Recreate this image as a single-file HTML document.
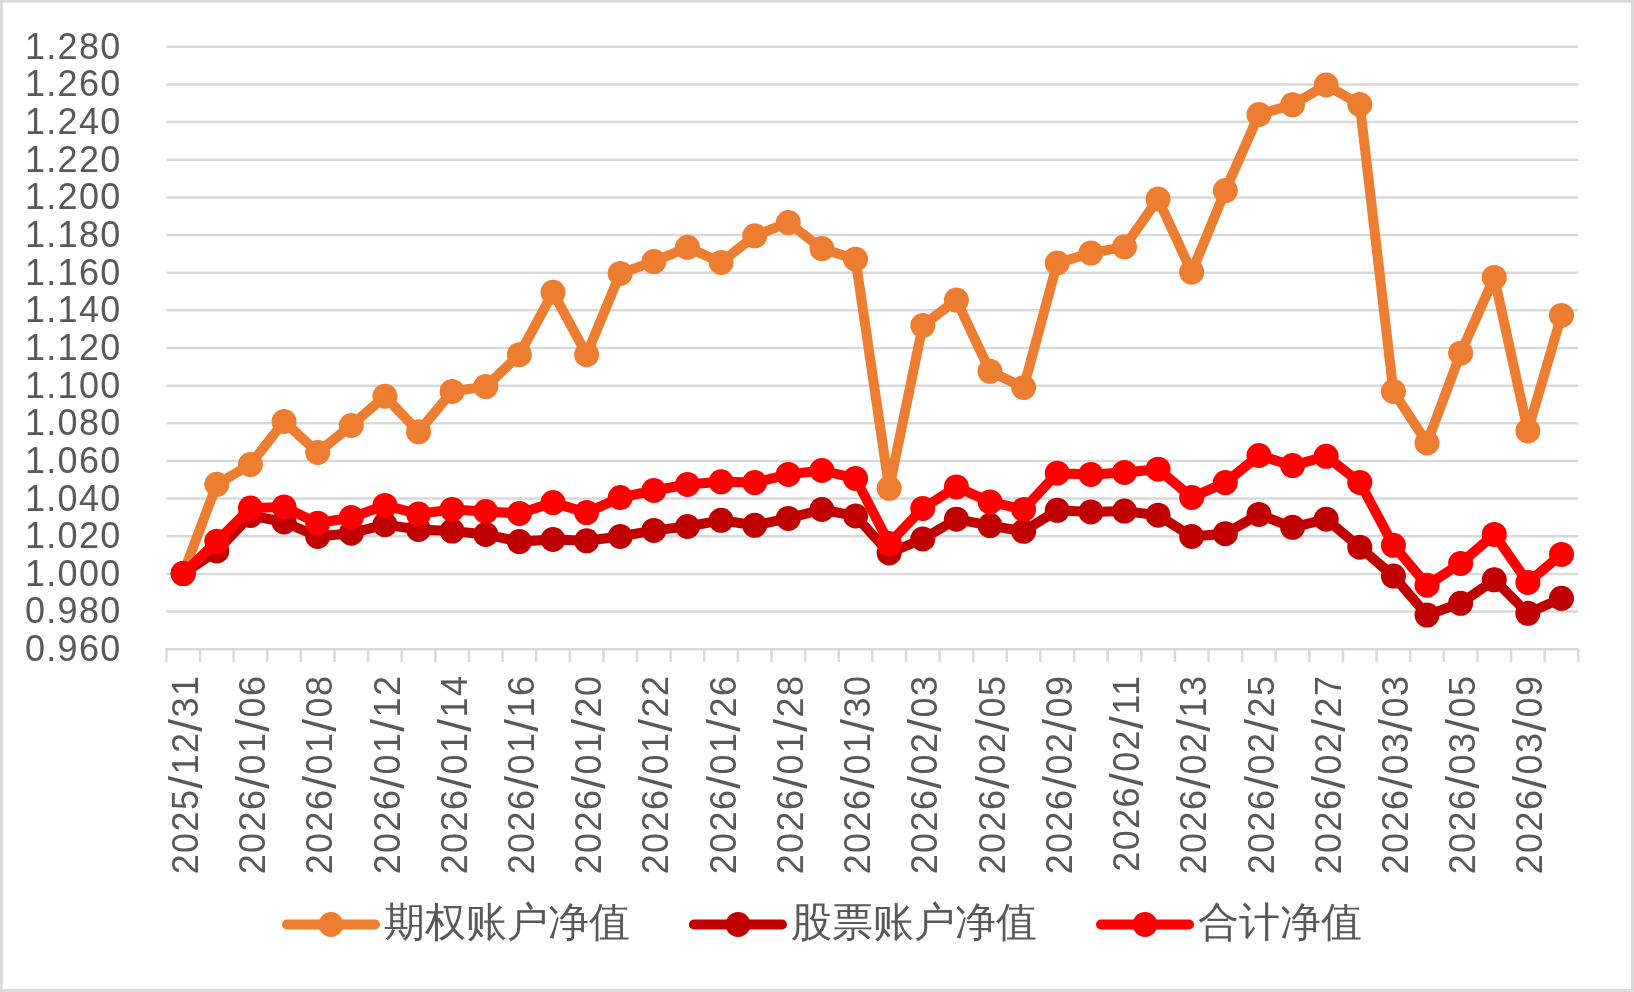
<!DOCTYPE html>
<html><head><meta charset="utf-8"><style>
html,body{margin:0;padding:0;background:#fff;}
body{width:1634px;height:992px;overflow:hidden;position:relative;}
svg{position:absolute;left:0;top:0;will-change:transform;}
text{font-family:"Liberation Sans",sans-serif;fill:#595959;}
.cjk{font-weight:300;}
</style></head><body>
<svg width="1634" height="992" viewBox="0 0 1634 992">

<rect x="1.4" y="1.3" width="1631.1" height="989.2" fill="none" stroke="#d9d9d9" stroke-width="2.8"/>

<g stroke="#d9d9d9" stroke-width="2.5"><line x1="166.4" y1="46.80" x2="1578.3" y2="46.80"/><line x1="166.4" y1="84.45" x2="1578.3" y2="84.45"/><line x1="166.4" y1="122.10" x2="1578.3" y2="122.10"/><line x1="166.4" y1="159.75" x2="1578.3" y2="159.75"/><line x1="166.4" y1="197.40" x2="1578.3" y2="197.40"/><line x1="166.4" y1="235.05" x2="1578.3" y2="235.05"/><line x1="166.4" y1="272.70" x2="1578.3" y2="272.70"/><line x1="166.4" y1="310.35" x2="1578.3" y2="310.35"/><line x1="166.4" y1="348.00" x2="1578.3" y2="348.00"/><line x1="166.4" y1="385.65" x2="1578.3" y2="385.65"/><line x1="166.4" y1="423.30" x2="1578.3" y2="423.30"/><line x1="166.4" y1="460.95" x2="1578.3" y2="460.95"/><line x1="166.4" y1="498.60" x2="1578.3" y2="498.60"/><line x1="166.4" y1="536.25" x2="1578.3" y2="536.25"/><line x1="166.4" y1="573.90" x2="1578.3" y2="573.90"/><line x1="166.4" y1="611.55" x2="1578.3" y2="611.55"/></g>
<g stroke="#d9d9d9" stroke-width="2.5"><line x1="165.20000000000002" y1="649.20" x2="1578.3" y2="649.20"/><line x1="166.40" y1="649.20" x2="166.40" y2="662"/><line x1="200.02" y1="649.20" x2="200.02" y2="662"/><line x1="233.63" y1="649.20" x2="233.63" y2="662"/><line x1="267.25" y1="649.20" x2="267.25" y2="662"/><line x1="300.87" y1="649.20" x2="300.87" y2="662"/><line x1="334.48" y1="649.20" x2="334.48" y2="662"/><line x1="368.10" y1="649.20" x2="368.10" y2="662"/><line x1="401.72" y1="649.20" x2="401.72" y2="662"/><line x1="435.33" y1="649.20" x2="435.33" y2="662"/><line x1="468.95" y1="649.20" x2="468.95" y2="662"/><line x1="502.57" y1="649.20" x2="502.57" y2="662"/><line x1="536.18" y1="649.20" x2="536.18" y2="662"/><line x1="569.80" y1="649.20" x2="569.80" y2="662"/><line x1="603.42" y1="649.20" x2="603.42" y2="662"/><line x1="637.03" y1="649.20" x2="637.03" y2="662"/><line x1="670.65" y1="649.20" x2="670.65" y2="662"/><line x1="704.27" y1="649.20" x2="704.27" y2="662"/><line x1="737.88" y1="649.20" x2="737.88" y2="662"/><line x1="771.50" y1="649.20" x2="771.50" y2="662"/><line x1="805.12" y1="649.20" x2="805.12" y2="662"/><line x1="838.73" y1="649.20" x2="838.73" y2="662"/><line x1="872.35" y1="649.20" x2="872.35" y2="662"/><line x1="905.97" y1="649.20" x2="905.97" y2="662"/><line x1="939.58" y1="649.20" x2="939.58" y2="662"/><line x1="973.20" y1="649.20" x2="973.20" y2="662"/><line x1="1006.82" y1="649.20" x2="1006.82" y2="662"/><line x1="1040.43" y1="649.20" x2="1040.43" y2="662"/><line x1="1074.05" y1="649.20" x2="1074.05" y2="662"/><line x1="1107.67" y1="649.20" x2="1107.67" y2="662"/><line x1="1141.28" y1="649.20" x2="1141.28" y2="662"/><line x1="1174.90" y1="649.20" x2="1174.90" y2="662"/><line x1="1208.52" y1="649.20" x2="1208.52" y2="662"/><line x1="1242.13" y1="649.20" x2="1242.13" y2="662"/><line x1="1275.75" y1="649.20" x2="1275.75" y2="662"/><line x1="1309.37" y1="649.20" x2="1309.37" y2="662"/><line x1="1342.98" y1="649.20" x2="1342.98" y2="662"/><line x1="1376.60" y1="649.20" x2="1376.60" y2="662"/><line x1="1410.22" y1="649.20" x2="1410.22" y2="662"/><line x1="1443.83" y1="649.20" x2="1443.83" y2="662"/><line x1="1477.45" y1="649.20" x2="1477.45" y2="662"/><line x1="1511.07" y1="649.20" x2="1511.07" y2="662"/><line x1="1544.68" y1="649.20" x2="1544.68" y2="662"/><line x1="1578.30" y1="649.20" x2="1578.30" y2="662"/></g>
<g font-size="36" letter-spacing="1.3"><text x="121.6" y="58.70" text-anchor="end">1.280</text><text x="121.6" y="96.35" text-anchor="end">1.260</text><text x="121.6" y="134.00" text-anchor="end">1.240</text><text x="121.6" y="171.65" text-anchor="end">1.220</text><text x="121.6" y="209.30" text-anchor="end">1.200</text><text x="121.6" y="246.95" text-anchor="end">1.180</text><text x="121.6" y="284.60" text-anchor="end">1.160</text><text x="121.6" y="322.25" text-anchor="end">1.140</text><text x="121.6" y="359.90" text-anchor="end">1.120</text><text x="121.6" y="397.55" text-anchor="end">1.100</text><text x="121.6" y="435.20" text-anchor="end">1.080</text><text x="121.6" y="472.85" text-anchor="end">1.060</text><text x="121.6" y="510.50" text-anchor="end">1.040</text><text x="121.6" y="548.15" text-anchor="end">1.020</text><text x="121.6" y="585.80" text-anchor="end">1.000</text><text x="121.6" y="623.45" text-anchor="end">0.980</text><text x="121.6" y="661.10" text-anchor="end">0.960</text></g>
<g font-size="36" letter-spacing="1.4"><text transform="translate(197.81,674.6) rotate(-90)" text-anchor="end">2025<tspan dy="4" font-size="46" stroke="none">/</tspan><tspan dy="-4">12</tspan><tspan dy="4" font-size="46" stroke="none">/</tspan><tspan dy="-4">31</tspan></text><text transform="translate(265.04,674.6) rotate(-90)" text-anchor="end">2026<tspan dy="4" font-size="46" stroke="none">/</tspan><tspan dy="-4">01</tspan><tspan dy="4" font-size="46" stroke="none">/</tspan><tspan dy="-4">06</tspan></text><text transform="translate(332.27,674.6) rotate(-90)" text-anchor="end">2026<tspan dy="4" font-size="46" stroke="none">/</tspan><tspan dy="-4">01</tspan><tspan dy="4" font-size="46" stroke="none">/</tspan><tspan dy="-4">08</tspan></text><text transform="translate(399.51,674.6) rotate(-90)" text-anchor="end">2026<tspan dy="4" font-size="46" stroke="none">/</tspan><tspan dy="-4">01</tspan><tspan dy="4" font-size="46" stroke="none">/</tspan><tspan dy="-4">12</tspan></text><text transform="translate(466.74,674.6) rotate(-90)" text-anchor="end">2026<tspan dy="4" font-size="46" stroke="none">/</tspan><tspan dy="-4">01</tspan><tspan dy="4" font-size="46" stroke="none">/</tspan><tspan dy="-4">14</tspan></text><text transform="translate(533.97,674.6) rotate(-90)" text-anchor="end">2026<tspan dy="4" font-size="46" stroke="none">/</tspan><tspan dy="-4">01</tspan><tspan dy="4" font-size="46" stroke="none">/</tspan><tspan dy="-4">16</tspan></text><text transform="translate(601.21,674.6) rotate(-90)" text-anchor="end">2026<tspan dy="4" font-size="46" stroke="none">/</tspan><tspan dy="-4">01</tspan><tspan dy="4" font-size="46" stroke="none">/</tspan><tspan dy="-4">20</tspan></text><text transform="translate(668.44,674.6) rotate(-90)" text-anchor="end">2026<tspan dy="4" font-size="46" stroke="none">/</tspan><tspan dy="-4">01</tspan><tspan dy="4" font-size="46" stroke="none">/</tspan><tspan dy="-4">22</tspan></text><text transform="translate(735.67,674.6) rotate(-90)" text-anchor="end">2026<tspan dy="4" font-size="46" stroke="none">/</tspan><tspan dy="-4">01</tspan><tspan dy="4" font-size="46" stroke="none">/</tspan><tspan dy="-4">26</tspan></text><text transform="translate(802.91,674.6) rotate(-90)" text-anchor="end">2026<tspan dy="4" font-size="46" stroke="none">/</tspan><tspan dy="-4">01</tspan><tspan dy="4" font-size="46" stroke="none">/</tspan><tspan dy="-4">28</tspan></text><text transform="translate(870.14,674.6) rotate(-90)" text-anchor="end">2026<tspan dy="4" font-size="46" stroke="none">/</tspan><tspan dy="-4">01</tspan><tspan dy="4" font-size="46" stroke="none">/</tspan><tspan dy="-4">30</tspan></text><text transform="translate(937.37,674.6) rotate(-90)" text-anchor="end">2026<tspan dy="4" font-size="46" stroke="none">/</tspan><tspan dy="-4">02</tspan><tspan dy="4" font-size="46" stroke="none">/</tspan><tspan dy="-4">03</tspan></text><text transform="translate(1004.61,674.6) rotate(-90)" text-anchor="end">2026<tspan dy="4" font-size="46" stroke="none">/</tspan><tspan dy="-4">02</tspan><tspan dy="4" font-size="46" stroke="none">/</tspan><tspan dy="-4">05</tspan></text><text transform="translate(1071.84,674.6) rotate(-90)" text-anchor="end">2026<tspan dy="4" font-size="46" stroke="none">/</tspan><tspan dy="-4">02</tspan><tspan dy="4" font-size="46" stroke="none">/</tspan><tspan dy="-4">09</tspan></text><text transform="translate(1139.07,674.6) rotate(-90)" text-anchor="end">2026<tspan dy="4" font-size="46" stroke="none">/</tspan><tspan dy="-4">02</tspan><tspan dy="4" font-size="46" stroke="none">/</tspan><tspan dy="-4">11</tspan></text><text transform="translate(1206.31,674.6) rotate(-90)" text-anchor="end">2026<tspan dy="4" font-size="46" stroke="none">/</tspan><tspan dy="-4">02</tspan><tspan dy="4" font-size="46" stroke="none">/</tspan><tspan dy="-4">13</tspan></text><text transform="translate(1273.54,674.6) rotate(-90)" text-anchor="end">2026<tspan dy="4" font-size="46" stroke="none">/</tspan><tspan dy="-4">02</tspan><tspan dy="4" font-size="46" stroke="none">/</tspan><tspan dy="-4">25</tspan></text><text transform="translate(1340.77,674.6) rotate(-90)" text-anchor="end">2026<tspan dy="4" font-size="46" stroke="none">/</tspan><tspan dy="-4">02</tspan><tspan dy="4" font-size="46" stroke="none">/</tspan><tspan dy="-4">27</tspan></text><text transform="translate(1408.01,674.6) rotate(-90)" text-anchor="end">2026<tspan dy="4" font-size="46" stroke="none">/</tspan><tspan dy="-4">03</tspan><tspan dy="4" font-size="46" stroke="none">/</tspan><tspan dy="-4">03</tspan></text><text transform="translate(1475.24,674.6) rotate(-90)" text-anchor="end">2026<tspan dy="4" font-size="46" stroke="none">/</tspan><tspan dy="-4">03</tspan><tspan dy="4" font-size="46" stroke="none">/</tspan><tspan dy="-4">05</tspan></text><text transform="translate(1542.47,674.6) rotate(-90)" text-anchor="end">2026<tspan dy="4" font-size="46" stroke="none">/</tspan><tspan dy="-4">03</tspan><tspan dy="4" font-size="46" stroke="none">/</tspan><tspan dy="-4">09</tspan></text></g>
<polyline points="183.21,573.60 216.82,484.30 250.44,464.50 284.06,421.50 317.67,452.50 351.29,425.50 384.91,396.20 418.52,431.80 452.14,391.40 485.76,386.60 519.37,354.70 552.99,292.30 586.61,354.70 620.22,273.40 653.84,261.60 687.46,247.30 721.07,262.40 754.69,235.80 788.31,222.60 821.92,248.60 855.54,259.20 889.16,488.30 922.77,325.60 956.39,300.10 990.01,371.30 1023.62,387.60 1057.24,263.00 1090.86,253.10 1124.47,246.80 1158.09,199.10 1191.71,272.20 1225.32,190.60 1258.94,114.50 1292.56,104.80 1326.17,85.00 1359.79,104.50 1393.41,391.50 1427.02,443.00 1460.64,353.20 1494.26,277.40 1527.87,430.90 1561.49,315.40" fill="none" stroke="#ED7D31" stroke-width="10" stroke-linejoin="round" stroke-linecap="round"/><g fill="#ED7D31"><circle cx="183.21" cy="573.60" r="12.5"/><circle cx="216.82" cy="484.30" r="12.5"/><circle cx="250.44" cy="464.50" r="12.5"/><circle cx="284.06" cy="421.50" r="12.5"/><circle cx="317.67" cy="452.50" r="12.5"/><circle cx="351.29" cy="425.50" r="12.5"/><circle cx="384.91" cy="396.20" r="12.5"/><circle cx="418.52" cy="431.80" r="12.5"/><circle cx="452.14" cy="391.40" r="12.5"/><circle cx="485.76" cy="386.60" r="12.5"/><circle cx="519.37" cy="354.70" r="12.5"/><circle cx="552.99" cy="292.30" r="12.5"/><circle cx="586.61" cy="354.70" r="12.5"/><circle cx="620.22" cy="273.40" r="12.5"/><circle cx="653.84" cy="261.60" r="12.5"/><circle cx="687.46" cy="247.30" r="12.5"/><circle cx="721.07" cy="262.40" r="12.5"/><circle cx="754.69" cy="235.80" r="12.5"/><circle cx="788.31" cy="222.60" r="12.5"/><circle cx="821.92" cy="248.60" r="12.5"/><circle cx="855.54" cy="259.20" r="12.5"/><circle cx="889.16" cy="488.30" r="12.5"/><circle cx="922.77" cy="325.60" r="12.5"/><circle cx="956.39" cy="300.10" r="12.5"/><circle cx="990.01" cy="371.30" r="12.5"/><circle cx="1023.62" cy="387.60" r="12.5"/><circle cx="1057.24" cy="263.00" r="12.5"/><circle cx="1090.86" cy="253.10" r="12.5"/><circle cx="1124.47" cy="246.80" r="12.5"/><circle cx="1158.09" cy="199.10" r="12.5"/><circle cx="1191.71" cy="272.20" r="12.5"/><circle cx="1225.32" cy="190.60" r="12.5"/><circle cx="1258.94" cy="114.50" r="12.5"/><circle cx="1292.56" cy="104.80" r="12.5"/><circle cx="1326.17" cy="85.00" r="12.5"/><circle cx="1359.79" cy="104.50" r="12.5"/><circle cx="1393.41" cy="391.50" r="12.5"/><circle cx="1427.02" cy="443.00" r="12.5"/><circle cx="1460.64" cy="353.20" r="12.5"/><circle cx="1494.26" cy="277.40" r="12.5"/><circle cx="1527.87" cy="430.90" r="12.5"/><circle cx="1561.49" cy="315.40" r="12.5"/></g>
<polyline points="183.21,573.60 216.82,551.00 250.44,515.50 284.06,522.00 317.67,536.50 351.29,533.20 384.91,524.60 418.52,529.50 452.14,531.10 485.76,534.40 519.37,541.60 552.99,539.50 586.61,540.80 620.22,536.50 653.84,530.40 687.46,526.50 721.07,520.30 754.69,525.30 788.31,518.40 821.92,509.50 855.54,516.00 889.16,553.00 922.77,539.00 956.39,519.20 990.01,525.60 1023.62,531.30 1057.24,510.30 1090.86,511.90 1124.47,511.10 1158.09,515.20 1191.71,536.50 1225.32,533.70 1258.94,514.40 1292.56,527.30 1326.17,519.20 1359.79,547.20 1393.41,576.10 1427.02,615.10 1460.64,603.30 1494.26,579.80 1527.87,613.30 1561.49,598.30" fill="none" stroke="#C00000" stroke-width="10" stroke-linejoin="round" stroke-linecap="round"/><g fill="#C00000"><circle cx="183.21" cy="573.60" r="12.5"/><circle cx="216.82" cy="551.00" r="12.5"/><circle cx="250.44" cy="515.50" r="12.5"/><circle cx="284.06" cy="522.00" r="12.5"/><circle cx="317.67" cy="536.50" r="12.5"/><circle cx="351.29" cy="533.20" r="12.5"/><circle cx="384.91" cy="524.60" r="12.5"/><circle cx="418.52" cy="529.50" r="12.5"/><circle cx="452.14" cy="531.10" r="12.5"/><circle cx="485.76" cy="534.40" r="12.5"/><circle cx="519.37" cy="541.60" r="12.5"/><circle cx="552.99" cy="539.50" r="12.5"/><circle cx="586.61" cy="540.80" r="12.5"/><circle cx="620.22" cy="536.50" r="12.5"/><circle cx="653.84" cy="530.40" r="12.5"/><circle cx="687.46" cy="526.50" r="12.5"/><circle cx="721.07" cy="520.30" r="12.5"/><circle cx="754.69" cy="525.30" r="12.5"/><circle cx="788.31" cy="518.40" r="12.5"/><circle cx="821.92" cy="509.50" r="12.5"/><circle cx="855.54" cy="516.00" r="12.5"/><circle cx="889.16" cy="553.00" r="12.5"/><circle cx="922.77" cy="539.00" r="12.5"/><circle cx="956.39" cy="519.20" r="12.5"/><circle cx="990.01" cy="525.60" r="12.5"/><circle cx="1023.62" cy="531.30" r="12.5"/><circle cx="1057.24" cy="510.30" r="12.5"/><circle cx="1090.86" cy="511.90" r="12.5"/><circle cx="1124.47" cy="511.10" r="12.5"/><circle cx="1158.09" cy="515.20" r="12.5"/><circle cx="1191.71" cy="536.50" r="12.5"/><circle cx="1225.32" cy="533.70" r="12.5"/><circle cx="1258.94" cy="514.40" r="12.5"/><circle cx="1292.56" cy="527.30" r="12.5"/><circle cx="1326.17" cy="519.20" r="12.5"/><circle cx="1359.79" cy="547.20" r="12.5"/><circle cx="1393.41" cy="576.10" r="12.5"/><circle cx="1427.02" cy="615.10" r="12.5"/><circle cx="1460.64" cy="603.30" r="12.5"/><circle cx="1494.26" cy="579.80" r="12.5"/><circle cx="1527.87" cy="613.30" r="12.5"/><circle cx="1561.49" cy="598.30" r="12.5"/></g>
<polyline points="183.21,573.60 216.82,541.30 250.44,508.00 284.06,507.00 317.67,523.20 351.29,517.50 384.91,505.40 418.52,514.00 452.14,509.40 485.76,511.50 519.37,513.40 552.99,502.60 586.61,512.60 620.22,497.60 653.84,490.50 687.46,484.50 721.07,481.80 754.69,482.60 788.31,474.40 821.92,470.50 855.54,478.40 889.16,543.40 922.77,508.40 956.39,486.90 990.01,501.90 1023.62,509.50 1057.24,473.20 1090.86,474.40 1124.47,472.40 1158.09,469.20 1191.71,497.40 1225.32,482.60 1258.94,455.50 1292.56,465.60 1326.17,456.30 1359.79,482.40 1393.41,545.30 1427.02,585.20 1460.64,563.40 1494.26,534.40 1527.87,582.50 1561.49,554.40" fill="none" stroke="#FF0000" stroke-width="10" stroke-linejoin="round" stroke-linecap="round"/><g fill="#FF0000"><circle cx="183.21" cy="573.60" r="12.5"/><circle cx="216.82" cy="541.30" r="12.5"/><circle cx="250.44" cy="508.00" r="12.5"/><circle cx="284.06" cy="507.00" r="12.5"/><circle cx="317.67" cy="523.20" r="12.5"/><circle cx="351.29" cy="517.50" r="12.5"/><circle cx="384.91" cy="505.40" r="12.5"/><circle cx="418.52" cy="514.00" r="12.5"/><circle cx="452.14" cy="509.40" r="12.5"/><circle cx="485.76" cy="511.50" r="12.5"/><circle cx="519.37" cy="513.40" r="12.5"/><circle cx="552.99" cy="502.60" r="12.5"/><circle cx="586.61" cy="512.60" r="12.5"/><circle cx="620.22" cy="497.60" r="12.5"/><circle cx="653.84" cy="490.50" r="12.5"/><circle cx="687.46" cy="484.50" r="12.5"/><circle cx="721.07" cy="481.80" r="12.5"/><circle cx="754.69" cy="482.60" r="12.5"/><circle cx="788.31" cy="474.40" r="12.5"/><circle cx="821.92" cy="470.50" r="12.5"/><circle cx="855.54" cy="478.40" r="12.5"/><circle cx="889.16" cy="543.40" r="12.5"/><circle cx="922.77" cy="508.40" r="12.5"/><circle cx="956.39" cy="486.90" r="12.5"/><circle cx="990.01" cy="501.90" r="12.5"/><circle cx="1023.62" cy="509.50" r="12.5"/><circle cx="1057.24" cy="473.20" r="12.5"/><circle cx="1090.86" cy="474.40" r="12.5"/><circle cx="1124.47" cy="472.40" r="12.5"/><circle cx="1158.09" cy="469.20" r="12.5"/><circle cx="1191.71" cy="497.40" r="12.5"/><circle cx="1225.32" cy="482.60" r="12.5"/><circle cx="1258.94" cy="455.50" r="12.5"/><circle cx="1292.56" cy="465.60" r="12.5"/><circle cx="1326.17" cy="456.30" r="12.5"/><circle cx="1359.79" cy="482.40" r="12.5"/><circle cx="1393.41" cy="545.30" r="12.5"/><circle cx="1427.02" cy="585.20" r="12.5"/><circle cx="1460.64" cy="563.40" r="12.5"/><circle cx="1494.26" cy="534.40" r="12.5"/><circle cx="1527.87" cy="582.50" r="12.5"/><circle cx="1561.49" cy="554.40" r="12.5"/></g>
<line x1="287" y1="924.5" x2="375" y2="924.5" stroke="#ED7D31" stroke-width="10" stroke-linecap="round"/><circle cx="331" cy="924.5" r="12.5" fill="#ED7D31"/><text class="cjk" x="384" y="935.8" font-size="41.4">期权账户净值</text>
<line x1="694" y1="924.5" x2="782" y2="924.5" stroke="#C00000" stroke-width="10" stroke-linecap="round"/><circle cx="738" cy="924.5" r="12.5" fill="#C00000"/><text class="cjk" x="791" y="935.8" font-size="41.4">股票账户净值</text>
<line x1="1101" y1="924.5" x2="1189" y2="924.5" stroke="#FF0000" stroke-width="10" stroke-linecap="round"/><circle cx="1145" cy="924.5" r="12.5" fill="#FF0000"/><text class="cjk" x="1198" y="935.8" font-size="41.4">合计净值</text>
</svg></body></html>
